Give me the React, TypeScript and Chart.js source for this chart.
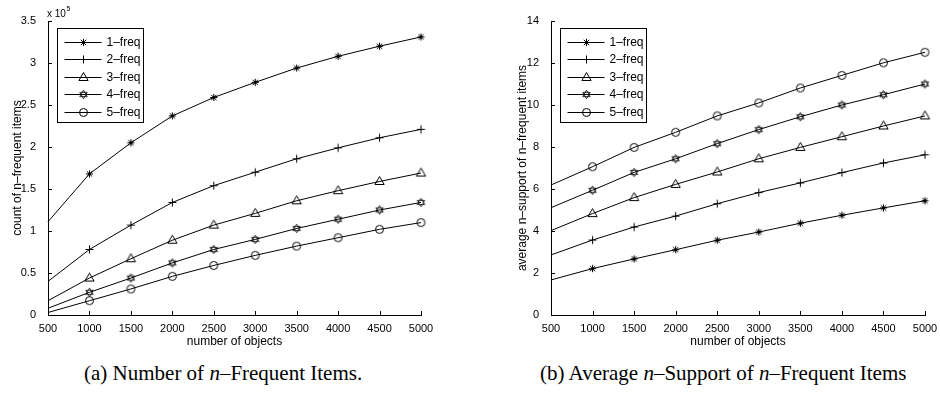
import React, { useEffect, useRef } from 'react';
import { Chart, registerables } from 'chart.js';

Chart.register(...registerables);

// ---------- data ----------
const objects = [500, 1000, 1500, 2000, 2500, 3000, 3500, 4000, 4500, 5000];
const seriesLabels = ['1–freq', '2–freq', '3–freq', '4–freq', '5–freq'];
const markerKinds = ['asterisk', 'plus', 'triangle', 'hexagram', 'circle'];

// (a) count of n-frequent items, in units of 10^5
const count1 = [1.11, 1.68, 2.05, 2.37, 2.59, 2.77, 2.94, 3.08, 3.2, 3.31];
const count2 = [0.4, 0.78, 1.07, 1.34, 1.54, 1.7, 1.86, 1.99, 2.11, 2.21];
const count3 = [0.17, 0.44, 0.67, 0.89, 1.07, 1.21, 1.36, 1.48, 1.59, 1.69];
const count4 = [0.08, 0.27, 0.44, 0.62, 0.78, 0.9, 1.03, 1.14, 1.25, 1.34];
const count5 = [0.03, 0.17, 0.31, 0.46, 0.59, 0.71, 0.82, 0.92, 1.02, 1.1];

// (b) average n-support of n-frequent items
const support1 = [1.67, 2.21, 2.67, 3.11, 3.56, 3.95, 4.37, 4.75, 5.1, 5.44];
const support2 = [2.86, 3.57, 4.19, 4.71, 5.3, 5.83, 6.29, 6.78, 7.24, 7.63];
const support3 = [4.02, 4.83, 5.59, 6.22, 6.81, 7.44, 7.98, 8.49, 9.0, 9.48];
const support4 = [5.11, 5.94, 6.79, 7.44, 8.16, 8.83, 9.44, 10.0, 10.49, 11.0];
const support5 = [6.19, 7.06, 7.98, 8.7, 9.48, 10.1, 10.81, 11.41, 12.01, 12.51];

const countMax = 3.5;
const countStep = 0.5;
const supportMax = 14;
const supportStep = 2;

const FONT = '"Liberation Sans", Arial, Helvetica, sans-serif';

// ---------- markers ----------
function drawMarker(ctx: CanvasRenderingContext2D, kind: string, x: number, y: number) {
  ctx.beginPath();
  if (kind === 'asterisk') {
    const r = 3.6;
    const d = r * 0.75;
    ctx.moveTo(x - r, y); ctx.lineTo(x + r, y);
    ctx.moveTo(x, y - r); ctx.lineTo(x, y + r);
    ctx.moveTo(x - d, y - d); ctx.lineTo(x + d, y + d);
    ctx.moveTo(x - d, y + d); ctx.lineTo(x + d, y - d);
  } else if (kind === 'plus') {
    const r = 4;
    ctx.moveTo(x - r, y); ctx.lineTo(x + r, y);
    ctx.moveTo(x, y - r); ctx.lineTo(x, y + r);
  } else if (kind === 'triangle') {
    const r = 5;
    ctx.moveTo(x, y - r);
    ctx.lineTo(x + r * 0.92, y + r * 0.6);
    ctx.lineTo(x - r * 0.92, y + r * 0.6);
    ctx.closePath();
  } else if (kind === 'hexagram') {
    const r = 4.3;
    for (let t = 0; t < 2; t++) {
      const off = t === 0 ? -Math.PI / 2 : Math.PI / 2;
      for (let k = 0; k < 3; k++) {
        const a = off + (k * 2 * Math.PI) / 3;
        const px = x + r * Math.cos(a);
        const py = y + r * Math.sin(a);
        if (k === 0) ctx.moveTo(px, py); else ctx.lineTo(px, py);
      }
      ctx.closePath();
    }
  } else {
    ctx.arc(x, y, 4, 0, Math.PI * 2);
  }
  ctx.stroke();
}

function markerImage(kind: string): HTMLCanvasElement {
  const c = document.createElement('canvas');
  c.width = 13;
  c.height = 13;
  const g = c.getContext('2d')!;
  g.strokeStyle = '#000';
  g.lineWidth = kind === 'hexagram' ? 0.8 : 1;
  drawMarker(g, kind, 6.5, 6.5);
  return c;
}

// ---------- plugins ----------
const inwardTicks = {
  id: 'inwardTicks',
  afterDatasetsDraw(chart: any) {
    const { ctx, chartArea: a, scales } = chart;
    const x = scales.x;
    const y = scales.y;
    ctx.save();
    ctx.strokeStyle = '#000';
    ctx.lineWidth = 1;
    ctx.beginPath();
    x.ticks.forEach((t: any) => {
      const px = Math.round(x.getPixelForValue(t.value)) + 0.5;
      ctx.moveTo(px, a.bottom);
      ctx.lineTo(px, a.bottom - 4);
    });
    y.ticks.forEach((t: any) => {
      const py = Math.round(y.getPixelForValue(t.value)) + 0.5;
      ctx.moveTo(a.left, py);
      ctx.lineTo(a.left + 4, py);
    });
    ctx.stroke();
    ctx.restore();
  },
};

const boxLegend = {
  id: 'boxLegend',
  afterDatasetsDraw(chart: any) {
    const { ctx, chartArea: a } = chart;
    const left = Math.round(a.left + 9) + 0.5;
    const top = Math.round(a.top + 7) + 0.5;
    const w = 86;
    const h = 94;
    ctx.save();
    ctx.fillStyle = '#fff';
    ctx.fillRect(left, top, w, h);
    ctx.strokeStyle = '#000';
    ctx.lineWidth = 1;
    ctx.strokeRect(left, top, w, h);
    ctx.font = '12px ' + FONT;
    ctx.textBaseline = 'middle';
    ctx.textAlign = 'left';
    ctx.fillStyle = '#000';
    chart.data.datasets.forEach((ds: any, i: number) => {
      const yy = Math.round(top + 13 + i * 17.6) + 0.5;
      ctx.beginPath();
      ctx.moveTo(left + 7, yy);
      ctx.lineTo(left + 44, yy);
      ctx.stroke();
      ctx.lineWidth = markerKinds[i] === 'hexagram' ? 0.8 : 1;
      drawMarker(ctx, markerKinds[i], left + 26, yy);
      ctx.lineWidth = 1;
      ctx.fillText(ds.label, left + 49, yy + 0.5);
    });
    ctx.restore();
  },
};

const exponentLabel = {
  id: 'exponentLabel',
  afterDraw(chart: any) {
    if (!chart.options.plugins.exponentLabel?.show) return;
    const { ctx, chartArea: a } = chart;
    ctx.save();
    ctx.fillStyle = '#000';
    ctx.textBaseline = 'alphabetic';
    ctx.textAlign = 'left';
    ctx.font = '10px ' + FONT;
    const base = 'x 10';
    const x0 = a.left - 1;
    ctx.fillText(base, x0, 17);
    const wb = ctx.measureText(base).width;
    ctx.font = '7px ' + FONT;
    ctx.fillText('5', x0 + wb + 0.5, 11);
    ctx.restore();
  },
};

// ---------- chart component ----------
type PanelProps = {
  series: number[][];
  yMax: number;
  yStep: number;
  yTitle: string;
  yWidth: number;
  yTitlePad: number;
  rightPad: number;
  exponent: boolean;
};

function Panel(p: PanelProps) {
  const ref = useRef<HTMLCanvasElement | null>(null);
  useEffect(() => {
    if (!ref.current) return;
    const images = markerKinds.map(markerImage);
    const chart = new Chart(ref.current, {
      type: 'line',
      data: {
        labels: objects,
        datasets: p.series.map((vals, i) => ({
          label: seriesLabels[i],
          data: vals,
          borderColor: '#000',
          borderWidth: 1,
          backgroundColor: 'rgba(0,0,0,0)',
          pointStyle: images[i],
          pointRadius: (c: any) => (c.dataIndex === 0 ? 0 : 4),
          pointBorderColor: '#000',
          pointBackgroundColor: 'rgba(0,0,0,0)',
          tension: 0,
          fill: false,
          clip: false,
        })),
      },
      options: {
        animation: false,
        responsive: false,
        maintainAspectRatio: false,
        events: [],
        layout: { padding: { left: 0, right: p.rightPad, top: 21, bottom: 0 } },
        plugins: {
          legend: { display: false },
          tooltip: { enabled: false },
          title: { display: false },
          exponentLabel: { show: p.exponent },
        } as any,
        scales: {
          x: {
            type: 'linear',
            min: 500,
            max: 5000,
            grid: { display: false },
            border: { display: true, color: '#000', width: 1 },
            ticks: {
              stepSize: 500,
              autoSkip: false,
              maxRotation: 0,
              minRotation: 0,
              padding: -1,
              color: '#000',
              font: { family: FONT, size: 11 },
              callback: (v: any) => String(v),
            },
            title: {
              display: true,
              text: 'number of objects',
              color: '#000',
              font: { family: FONT, size: 12 },
              padding: { top: 0, bottom: 1 },
            },
            afterFit: (s: any) => {
              s.height = 35;
            },
          },
          y: {
            type: 'linear',
            min: 0,
            max: p.yMax,
            grid: { display: false },
            border: { display: true, color: '#000', width: 1 },
            ticks: {
              stepSize: p.yStep,
              autoSkip: false,
              padding: 4,
              color: '#000',
              font: { family: FONT, size: 11 },
              callback: (v: any) => String(Math.round(v * 100) / 100),
            },
            title: {
              display: true,
              text: p.yTitle,
              color: '#000',
              font: { family: FONT, size: 12 },
              padding: { top: p.yTitlePad, bottom: 0 },
            },
            afterFit: (s: any) => {
              s.width = p.yWidth;
            },
          },
        },
      } as any,
      plugins: [inwardTicks, boxLegend, exponentLabel],
    });
    return () => chart.destroy();
  }, []);
  return <canvas ref={ref} width={470} height={350} style={{ display: 'block' }} />;
}

const captionStyle: React.CSSProperties = {
  position: 'absolute',
  top: 359,
  fontFamily: '"Liberation Serif", "Times New Roman", Times, serif',
  fontSize: 21,
  lineHeight: '28px',
  whiteSpace: 'nowrap',
  color: '#000',
};

export default function App() {
  return (
    <div
      style={{
        position: 'absolute',
        left: 0,
        top: 0,
        width: 940,
        height: 398,
        background: '#fff',
        overflow: 'hidden',
      }}
    >
      <div style={{ position: 'absolute', left: 0, top: 0 }}>
        <Panel
          series={[count1, count2, count3, count4, count5]}
          yMax={countMax}
          yStep={countStep}
          yTitle="count of n–frequent items"
          yWidth={48}
          yTitlePad={10}
          rightPad={49}
          exponent={true}
        />
      </div>
      <div style={{ position: 'absolute', left: 470, top: 0 }}>
        <Panel
          series={[support1, support2, support3, support4, support5]}
          yMax={supportMax}
          yStep={supportStep}
          yTitle="average n–support of n–frequent items"
          yWidth={81}
          yTitlePad={45}
          rightPad={15}
          exponent={false}
        />
      </div>
      <div style={{ ...captionStyle, left: 84 }}>
        (a) Number of <i>n</i>–Frequent Items.
      </div>
      <div style={{ ...captionStyle, left: 540 }}>
        (b) Average <i>n</i>–Support of <i>n</i>–Frequent Items
      </div>
    </div>
  );
}
